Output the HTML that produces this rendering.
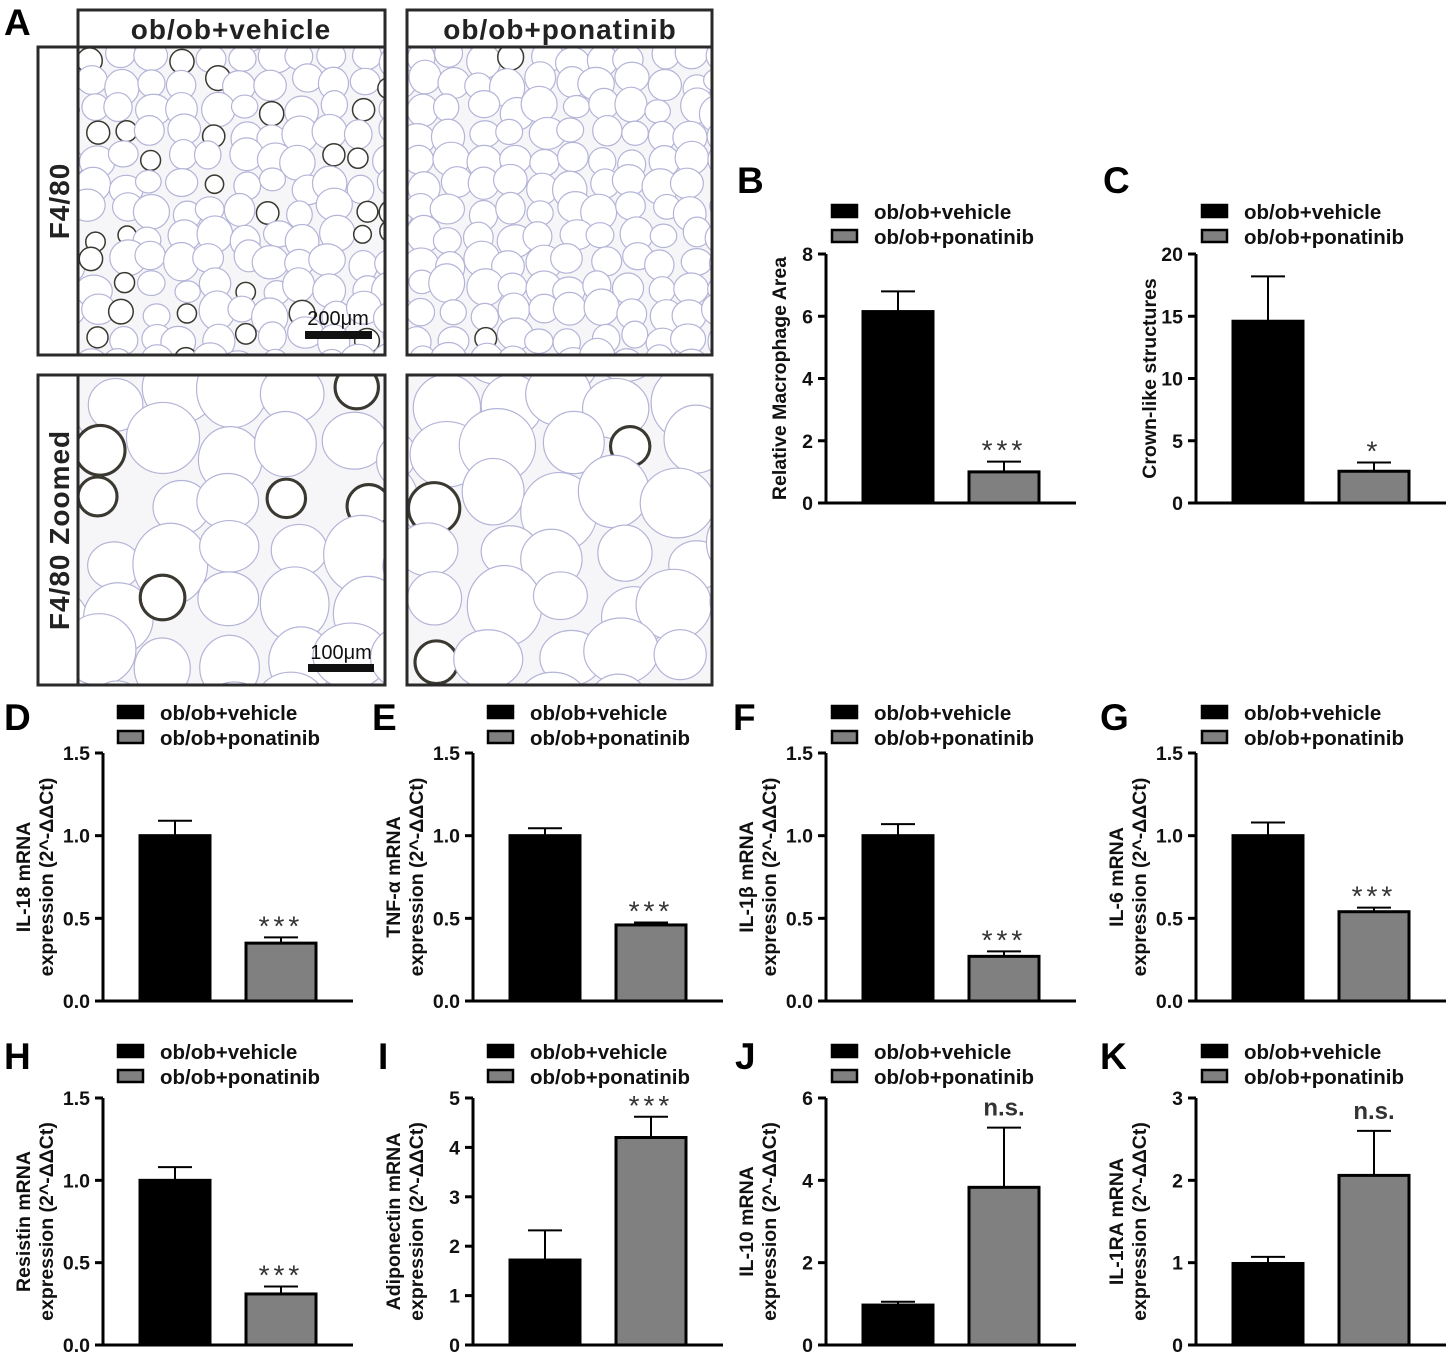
<!DOCTYPE html>
<html><head><meta charset="utf-8"><style>
html,body{margin:0;padding:0;background:#fff;}
svg{display:block;font-family:"Liberation Sans",Arial,sans-serif;}
</style></head><body>
<svg id="fig" width="1450" height="1356" viewBox="0 0 1450 1356" xmlns="http://www.w3.org/2000/svg">
<g id="panelA">
<text x="4" y="35" font-size="37" font-weight="bold">A</text>
<rect x="78" y="10" width="307" height="37" fill="#fff" stroke="#2a2a2a" stroke-width="3"/>
<text x="231" y="39" font-size="28" font-weight="bold" text-anchor="middle" fill="#222" letter-spacing="1">ob/ob+vehicle</text>
<rect x="407" y="10" width="305" height="37" fill="#fff" stroke="#2a2a2a" stroke-width="3"/>
<text x="560" y="39" font-size="28" font-weight="bold" text-anchor="middle" fill="#222" letter-spacing="1">ob/ob+ponatinib</text>
<rect x="38" y="47" width="40" height="308" fill="#fff" stroke="#2a2a2a" stroke-width="3"/>
<text transform="translate(69,201) rotate(-90)" font-size="28" font-weight="bold" text-anchor="middle" fill="#222" letter-spacing="1">F4/80</text>
<rect x="38" y="375" width="40" height="310" fill="#fff" stroke="#2a2a2a" stroke-width="3"/>
<text transform="translate(69,530) rotate(-90)" font-size="28" font-weight="bold" text-anchor="middle" fill="#222" letter-spacing="1">F4/80 Zoomed</text>
</g>
<g id="charts"></g>
</svg>
<script>
const NS="http://www.w3.org/2000/svg";
// ---- chart data ----
const categories=["ob/ob+vehicle","ob/ob+ponatinib"];
const valsB=[6.15,1.0]; const errB=[6.8,1.33]; const ticksB=[0,2,4,6,8];
const valsC=[14.6,2.55]; const errC=[18.2,3.25]; const ticksC=[0,5,10,15,20];
const valsD=[1.0,0.35]; const errD=[1.09,0.385]; const ticksD=[0,0.5,1.0,1.5];
const valsE=[1.0,0.46]; const errE=[1.045,0.475]; const ticksE=[0,0.5,1.0,1.5];
const valsF=[1.0,0.27]; const errF=[1.07,0.30]; const ticksF=[0,0.5,1.0,1.5];
const valsG=[1.0,0.54]; const errG=[1.08,0.565]; const ticksG=[0,0.5,1.0,1.5];
const valsH=[1.0,0.31]; const errH=[1.08,0.355]; const ticksH=[0,0.5,1.0,1.5];
const valsI=[1.72,4.2]; const errI=[2.32,4.62]; const ticksI=[0,1,2,3,4,5];
const valsJ=[0.97,3.83]; const errJ=[1.05,5.28]; const ticksJ=[0,2,4,6];
const valsK=[0.99,2.06]; const errK=[1.07,2.6]; const ticksK=[0,1,2,3];
const sigB=["","***"],sigC=["","*"],sigD=["","***"],sigE=["","***"],sigF=["","***"],sigG=["","***"],sigH=["","***"],sigI=["","***"],sigJ=["","n.s."],sigK=["","n.s."];

function el(tag,attrs,parent){const e=document.createElementNS(NS,tag);for(const k in attrs)e.setAttribute(k,attrs[k]);parent.appendChild(e);return e;}

// ---- micrograph textures (deterministic) ----
function hash(i){let x=Math.sin(i*127.1+311.7)*43758.5453;return x-Math.floor(x);}
function micro(x,y,w,h,cell,dark,seed,name){
  const root=document.getElementById('panelA');
  const g=el('g',{},root);
  
  
  const cid='clip'+seed;
  const cp=el('clipPath',{id:cid},g);el('rect',{x:x,y:y,width:w,height:h},cp);
  const inner=el('g',{'clip-path':'url(#'+cid+')'},g);
  el('rect',{x:x,y:y,width:w,height:h,fill:'#f6f6f8'},inner);
  let k=seed*1000;
  for(let yy=y-cell/2;yy<y+h+cell;yy+=cell*0.85){
    for(let xx=x-cell/2;xx<x+w+cell;xx+=cell){
      k++;
      const r=cell*(0.42+0.2*hash(k));
      const cx=xx+(hash(k+7)-0.5)*cell*0.4, cy=yy+(hash(k+13)-0.5)*cell*0.4;
      const isDark=dark&&hash(k+29)<dark;
      if(isDark){el('circle',{cx:cx,cy:cy,r:r*0.7,fill:'#fff',stroke:'#3a3830','stroke-width':cell*0.05},inner);}
      else{el('ellipse',{cx:cx,cy:cy,rx:r,ry:r*(0.85+0.25*hash(k+3)),fill:'#fff',stroke:'#b4b4d8','stroke-width':1.2},inner);}
    }
  }
  el('rect',{x:x,y:y,width:w,height:h,fill:'none',stroke:'#2a2a2a','stroke-width':3},g);
}
micro(78,47,307,308,30,0.22,1,'micrograph-vehicle-f480');
micro(407,47,305,308,30,0.02,2,'micrograph-ponatinib-f480');
micro(78,375,307,310,62,0.25,3,'micrograph-vehicle-zoomed');
micro(407,375,305,310,62,0.04,4,'micrograph-ponatinib-zoomed');
(function(){
  const root=document.getElementById('panelA');
  const t1=el('text',{x:338,y:325,'font-size':20,'text-anchor':'middle',fill:'#111'},root);t1.textContent='200μm';
  
  
  const b1=el('rect',{x:305,y:331,width:67,height:8,fill:'#111'},root);
  
  
  const t2=el('text',{x:341,y:659,'font-size':20,'text-anchor':'middle',fill:'#111'},root);t2.textContent='100μm';
  
  
  const b2=el('rect',{x:308,y:664,width:66,height:8,fill:'#111'},root);
  
  
})();

// ---- bar charts ----
function chart(o){
  const root=document.getElementById('charts');
  const g=el('g',{},root);
  
  
  const ax=o.ax, y0=o.y0, y1=o.y1, max=o.ticks[o.ticks.length-1];
  const sy=v=>y0-(v/max)*(y0-y1);
  const lt=el('text',{x:o.lx,y:o.ly,'font-size':37,'font-weight':'bold',fill:'#000'},g);lt.textContent=o.letter;
  
  
  const lg=el('g',{},g);
  
  
  const lx=ax+o.legOff, ly=o.legY;
  [0,1].forEach(i=>{
    const r=el('rect',{x:lx,y:ly+i*25,width:25,height:12,fill:i?'#808080':'#000',stroke:'#000','stroke-width':2.5},lg);
    
    
    const t=el('text',{x:lx+42,y:ly+i*25+14,'font-size':20.5,'font-weight':'bold',fill:'#111'},lg);t.textContent=categories[i];
    
    
  });
  const ya=el('line',{x1:ax,y1:y0+1.5,x2:ax,y2:y1,stroke:'#000','stroke-width':3},g);
  
  
  const xa=el('line',{x1:ax-8,y1:y0,x2:ax+250,y2:y0,stroke:'#000','stroke-width':3},g);
  
  
  o.ticks.forEach(v=>{
    const y=sy(v);
    const tl=el('line',{x1:ax-8,y1:y,x2:ax,y2:y,stroke:'#000','stroke-width':3},g);
    
    
    const tt=el('text',{x:ax-13,y:y+7,'font-size':19.5,'font-weight':'bold','text-anchor':'end',fill:'#111'},g);
    tt.textContent=o.dec?v.toFixed(1):String(v);
    
    
  });
  const cy=(y0+y1)/2;
  o.title.forEach((line,i)=>{
    const n=o.title.length;
    const tx=ax-(n===1?47:80-i*23);
    const t=el('text',{transform:`translate(${tx+7},${cy}) rotate(-90)`,'font-size':19.5,'font-weight':'bold','text-anchor':'middle',fill:'#111'},g);
    t.textContent=line;
    
    
  });
  o.vals.forEach((v,i)=>{
    const bx=ax+37+i*106, bw=70, cx=bx+bw/2;
    const e=el('line',{x1:cx,y1:sy(v),x2:cx,y2:sy(o.err[i]),stroke:'#000','stroke-width':2},g);
    
    
    const c=el('line',{x1:cx-17,y1:sy(o.err[i]),x2:cx+17,y2:sy(o.err[i]),stroke:'#000','stroke-width':2},g);
    
    
    const b=el('rect',{x:bx,y:sy(v),width:bw,height:y0-sy(v),fill:i?'#808080':'#000',stroke:'#000','stroke-width':3},g);
    
    
    if(o.sig[i]){
      const ns=o.sig[i]==='n.s.';
      const s=el('text',{x:cx,y:sy(o.err[i])-(ns?12:2),'font-size':ns?24:28,'font-weight':ns?'bold':'normal','text-anchor':'middle',fill:'#333','letter-spacing':ns?0:4},g);
      s.textContent=o.sig[i];
      
      
    }
  });
}
const mt=['expression (2^-ΔΔCt)'];
chart({letter:'B',lx:737,ly:193,ax:826,y0:503,y1:254,ticks:ticksB,vals:valsB,err:errB,sig:sigB,legOff:6,legY:205,title:['Relative Macrophage Area']});
chart({letter:'C',lx:1103,ly:193,ax:1196,y0:503,y1:254,ticks:ticksC,vals:valsC,err:errC,sig:sigC,legOff:6,legY:205,title:['Crown-like structures']});
chart({letter:'D',lx:4,ly:730,ax:103,y0:1001,y1:753,ticks:ticksD,dec:1,vals:valsD,err:errD,sig:sigD,legOff:15,legY:706,title:['IL-18 mRNA',mt[0]]});
chart({letter:'E',lx:372,ly:730,ax:473,y0:1001,y1:753,ticks:ticksE,dec:1,vals:valsE,err:errE,sig:sigE,legOff:15,legY:706,title:['TNF-α mRNA',mt[0]]});
chart({letter:'F',lx:733,ly:730,ax:826,y0:1001,y1:753,ticks:ticksF,dec:1,vals:valsF,err:errF,sig:sigF,legOff:6,legY:706,title:['IL-1β mRNA',mt[0]]});
chart({letter:'G',lx:1100,ly:730,ax:1196,y0:1001,y1:753,ticks:ticksG,dec:1,vals:valsG,err:errG,sig:sigG,legOff:6,legY:706,title:['IL-6 mRNA',mt[0]]});
chart({letter:'H',lx:4,ly:1069,ax:103,y0:1345,y1:1098,ticks:ticksH,dec:1,vals:valsH,err:errH,sig:sigH,legOff:15,legY:1045,title:['Resistin  mRNA',mt[0]]});
chart({letter:'I',lx:378,ly:1069,ax:473,y0:1345,y1:1098,ticks:ticksI,vals:valsI,err:errI,sig:sigI,legOff:15,legY:1045,title:['Adiponectin mRNA',mt[0]]});
chart({letter:'J',lx:735,ly:1069,ax:826,y0:1345,y1:1098,ticks:ticksJ,vals:valsJ,err:errJ,sig:sigJ,legOff:6,legY:1045,title:['IL-10 mRNA',mt[0]]});
chart({letter:'K',lx:1100,ly:1069,ax:1196,y0:1345,y1:1098,ticks:ticksK,vals:valsK,err:errK,sig:sigK,legOff:6,legY:1045,title:['IL-1RA mRNA',mt[0]]});
</script>
</body></html>
